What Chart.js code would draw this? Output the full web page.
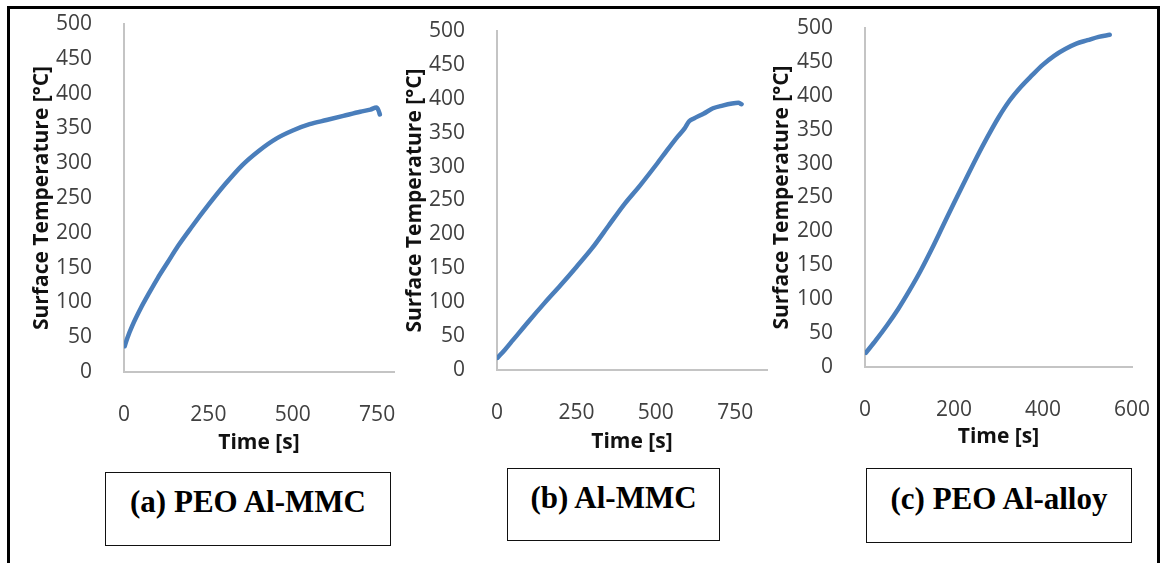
<!DOCTYPE html>
<html>
<head>
<meta charset="utf-8">
<script src="https://cdn.jsdelivr.net/npm/chart.js@4.4.1/dist/chart.umd.min.js"></script>
<style>
  html, body { margin: 0; padding: 0; background: #fff; }
  #page { position: relative; width: 1164px; height: 563px; overflow: hidden; background: #fff; }
  #frame { position: absolute; left: 7px; top: 6px; width: 1153px; height: 620px; box-sizing: border-box;
           border: 3px solid #000; border-bottom: none; }
  canvas { position: absolute; top: 0; }
  .caption { position: absolute; box-sizing: border-box; border: 1.5px solid #111; color: #000;
             font-family: "Liberation Serif", "Times New Roman", serif; font-weight: bold;
             font-size: 31px; line-height: 36px; text-align: center; white-space: nowrap; }
</style>
</head>
<body>
<div id="page">
  <div id="frame"></div>
  <canvas id="chartA"></canvas>
  <canvas id="chartB"></canvas>
  <canvas id="chartC"></canvas>
  <div class="caption" id="capA" style="left:105px; top:472px; width:286px; height:74px; padding-top:11px;"></div>
  <div class="caption" id="capB" style="left:507px; top:468px; width:213px; height:73px; padding-top:10.5px;"></div>
  <div class="caption" id="capC" style="left:866px; top:468px; width:266px; height:75px; padding-top:12px;"></div>
</div>
<script>
// (a) PEO Al-MMC
var timeA = [2, 10, 25, 50, 75, 100, 130, 160, 200, 250, 300, 350, 400, 450, 500, 550, 600, 650, 700, 730, 748, 754, 758];
var tempA = [37, 49, 67, 92, 114, 135, 158, 181, 208, 240, 270, 297, 318, 335, 347, 356, 362, 368, 374, 377, 380, 376, 370];

// (b) Al-MMC
var timeB = [2, 25, 50, 100, 150, 200, 250, 300, 350, 400, 450, 500, 540, 570, 590, 605, 620, 650, 680, 710, 740, 760, 770];
var tempB = [18, 30, 44, 72, 99, 125, 152, 180, 212, 244, 272, 302, 327, 345, 356, 367, 371, 378, 386, 390, 393, 394, 392];

// (c) PEO Al-alloy
var timeC = [2, 25, 50, 75, 100, 125, 150, 175, 200, 225, 250, 275, 300, 325, 350, 375, 400, 425, 450, 475, 500, 525, 550];
var tempC = [21, 40, 62, 86, 113, 142, 174, 208, 242, 275, 308, 339, 368, 393, 413, 430, 446, 459, 469, 477, 482, 487, 490];

var captions = ['(a) PEO Al-MMC', '(b) Al-MMC', '(c) PEO Al-alloy'];
var xTitle = 'Time [s]';
var yTitle = 'Surface Temperature [°C]';

// tick values
var tempTicks = [0, 50, 100, 150, 200, 250, 300, 350, 400, 450, 500];
var timeTicksA = [0, 250, 500, 750];
var timeTicksB = [0, 250, 500, 750];
var timeTicksC = [0, 200, 400, 600];
var timeMaxA = 800, timeMaxB = 850, timeMaxC = 600;

var FONT_SIZE = 21;
var LH = FONT_SIZE * 1.2;
var lineColor = '#4a7ebb';
var axisColor = '#c4c4c4';

function setTicks(values) {
	return function(scale) {
		scale.ticks = values.map(function(v) { return { value: v }; });
	};
}

function plot(id, box, area, titleX, titleY, times, temps, xTicks, xMax) {
	var canvas = document.getElementById(id);
	canvas.width = box.w;
	canvas.height = box.h;
	canvas.style.left = box.left + 'px';

	var points = times.map(function(t, i) { return { x: t, y: temps[i] }; });

	var tickFont = { family: 'Open Sans', size: FONT_SIZE };
	var titleFont = { family: 'Open Sans', size: FONT_SIZE, weight: 'bold' };

	return new Chart(canvas.getContext('2d'), {
		type: 'line',
		data: {
			datasets: [{
				data: points,
				borderColor: lineColor,
				borderWidth: 4.5,
				borderCapStyle: 'round',
				borderJoinStyle: 'round',
				tension: 0.4,
				cubicInterpolationMode: 'monotone',
				pointRadius: 0,
				fill: false
			}]
		},
		options: {
			responsive: false,
			animation: false,
			layout: {
				padding: {
					left: titleX - LH / 2 - box.left,
					top: area.t,
					right: box.left + box.w - area.r,
					bottom: box.h - (titleY + LH / 2)
				}
			},
			plugins: { legend: { display: false }, tooltip: { enabled: false } },
			scales: {
				x: {
					type: 'linear',
					min: xTicks[0],
					max: xMax,
					grid: { display: false },
					border: { color: axisColor, width: 2 },
					ticks: { padding: 22, color: '#404040', font: tickFont, maxRotation: 0, autoSkip: false },
					afterBuildTicks: setTicks(xTicks),
					title: { display: true, text: xTitle, color: '#111', font: titleFont, padding: 0 },
					afterFit: function(s) { s.height = titleY + LH / 2 - area.b; s.paddingLeft = 0; s.paddingRight = 0; }
				},
				y: {
					min: tempTicks[0],
					max: tempTicks[tempTicks.length - 1],
					grid: { display: false },
					border: { color: axisColor, width: 2 },
					ticks: { padding: 24, color: '#404040', font: tickFont, autoSkip: false },
					afterBuildTicks: setTicks(tempTicks),
					title: { display: true, text: yTitle, color: '#111', font: titleFont, padding: 0 },
					afterFit: function(s) { s.width = area.l - (titleX - LH / 2); s.paddingTop = 0; s.paddingBottom = 0; }
				}
			}
		}
	});
}

document.getElementById('capA').textContent = captions[0];
document.getElementById('capB').textContent = captions[1];
document.getElementById('capC').textContent = captions[2];

plot('chartA', { left: 20, w: 380, h: 462 }, { l: 124, t: 24, r: 394, b: 372 }, 42, 443, timeA, tempA, timeTicksA, timeMaxA);
plot('chartB', { left: 395, w: 380, h: 462 }, { l: 497, t: 31, r: 767, b: 370 }, 415, 442, timeB, tempB, timeTicksB, timeMaxB);
plot('chartC', { left: 765, w: 385, h: 462 }, { l: 865, t: 28, r: 1132, b: 367 }, 782, 437, timeC, tempC, timeTicksC, timeMaxC);
</script>
</body>
</html>
